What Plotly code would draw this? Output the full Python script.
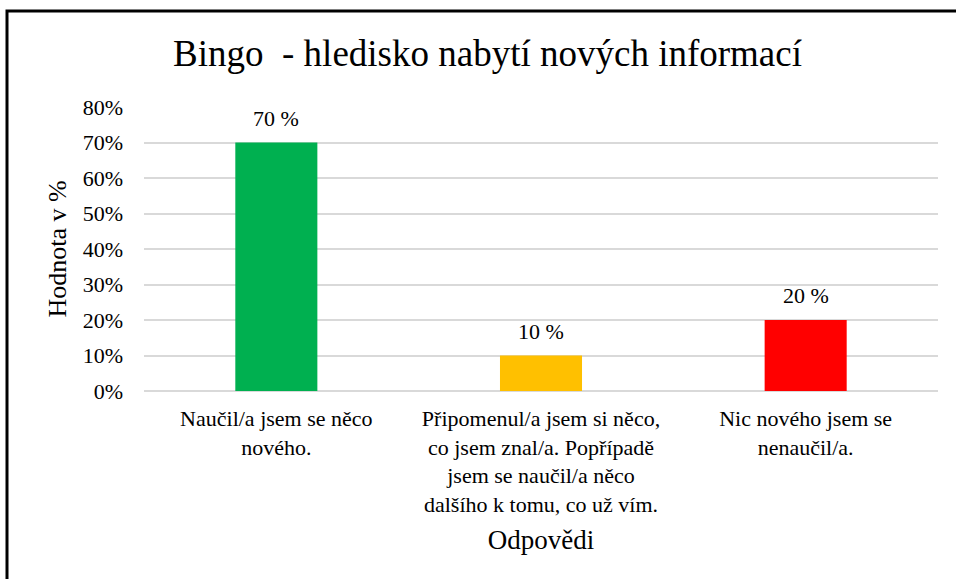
import plotly.graph_objects as go

categories = [
    "Naučil/a jsem se něco<br>nového.",
    "Připomenul/a jsem si něco,<br>co jsem znal/a. Popřípadě<br>jsem se naučil/a něco<br>dalšího k tomu, co už vím.",
    "Nic nového jsem se<br>nenaučil/a.",
]
values = [0.70, 0.10, 0.20]
labels = ["70 %", "10 %", "20 %"]
colors = ["#00B050", "#FFC000", "#FF0000"]
tick_vals = [0, 0.1, 0.2, 0.3, 0.4, 0.5, 0.6, 0.7, 0.8]
tick_text = ["0%", "10%", "20%", "30%", "40%", "50%", "60%", "70%", "80%"]

FONT = "Liberation Serif, Times New Roman, serif"

fig = go.Figure()
fig.add_trace(go.Bar(x=categories, y=values, marker=dict(color=colors, line=dict(width=0)),
                     hoverinfo="skip"))

for c, v, t in zip(categories, values, labels):
    fig.add_annotation(x=c, y=v, text=t, showarrow=False, yanchor="bottom", yshift=10,
                       font=dict(family=FONT, size=22, color="#000"))

L, R, T, B = 144, 18, 107, 188
W, H = 956, 579
pw, ph = W - L - R, H - T - B

def px(x):
    return (x - L) / pw

def py(y):
    return (H - B - y) / ph

fig.add_shape(type="rect", xref="paper", yref="paper",
              x0=px(7), x1=px(975), y0=py(600), y1=py(11),
              line=dict(color="#000", width=3), fillcolor="rgba(0,0,0,0)", layer="above")

fig.update_layout(
    width=W, height=H,
    margin=dict(l=L, r=R, t=T, b=B),
    paper_bgcolor="white", plot_bgcolor="white",
    font=dict(family=FONT, size=22, color="#000"),
    title=dict(text="Bingo  - hledisko nabytí nových informací", x=0.51, xanchor="center",
               y=1 - 53 / H, yanchor="middle", font=dict(family=FONT, size=37, color="#000")),
    bargap=0.69,
    showlegend=False,
    xaxis=dict(showgrid=False, showline=False, ticks="", tickfont=dict(size=22),
               ticklabelstandoff=12,
               title=dict(text="Odpovědi", font=dict(size=27), standoff=14),
               fixedrange=True),
    yaxis=dict(range=[0, 0.8], tickvals=tick_vals, ticktext=tick_text,
               showgrid=True, gridcolor="#d9d9d9", gridwidth=1.5,
               zeroline=True, zerolinecolor="#d9d9d9", zerolinewidth=1.5,
               showline=False, ticks="", ticklabelstandoff=20, tickfont=dict(size=22),
               title=dict(text="Hodnota v %", font=dict(size=26), standoff=8),
               fixedrange=True),
)

fig.write_html("out.html")
